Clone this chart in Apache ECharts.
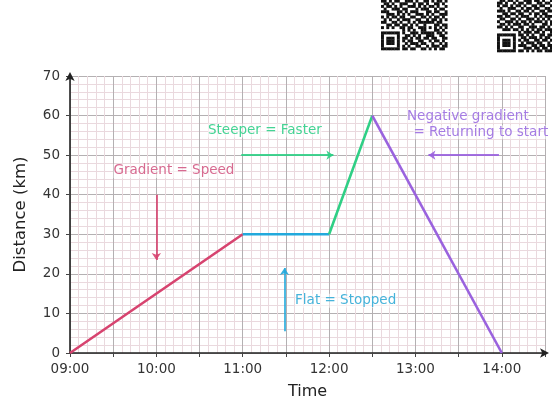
<!DOCTYPE html>
<html>
<head>
<meta charset="utf-8">
<script src="https://cdn.jsdelivr.net/npm/echarts@6/dist/echarts.min.js"></script>
<style>
  html, body { margin: 0; padding: 0; background: #ffffff; }
  #chart { width: 552px; height: 405px; }
</style>
</head>
<body>
<div id="chart"></div>
<script>
// Journey: minutes after 09:00 against distance from home (km)
const START_HOUR = 9;
const xMaxMinutes = 330;          // axis runs to 14:30
const yMaxKm = 70;

const walkOut   = [[0, 0], [120, 30]];     // 09:00 -> 11:00
const stopped   = [[120, 30], [180, 30]];  // 11:00 -> 12:00
const faster    = [[180, 30], [210, 60]];  // 12:00 -> 12:30
const returning = [[210, 60], [300, 0]];   // 12:30 -> 14:00

const segmentColors = ['#d7436f', '#22a9dc', '#2fcf85', '#9a62de'];

// Notes written on the graph: [text, minutes, km, colour]
const notes = [
  ['Gradient = Speed', 72.2, 46, '#d76a90'],
  ['Steeper = Faster', 135.4, 56.2, '#45d394'],
  ['Flat = Stopped', 191.5, 13.2, '#46b3da'],
  ['Negative gradient', 276.4, 59.8, '#a57ce3'],
  ['= Returning to start', 285.4, 55.8, '#a57ce3']
];

// Arrows pointing at each segment: [from, to, colour]
const pointers = [
  [[60, 40], [60, 23.5], '#d7436f'],
  [[119, 50], [183, 50], '#2fcf85'],
  [[298, 50], [249, 50], '#9a62de'],
  [[149, 5.5], [149, 21.5], '#22a9dc']
];

// Module rows for the two QR codes in the top corner
const qrLeft = [
  '1101011001110100110101101',
  '0110100111001011010011010',
  '1011010100111010101101001',
  '0100111011000101110010110',
  '1110001101011100011011001',
  '0011101010100111010100111',
  '1010110110011001101011010',
  '0101001011100110010110101',
  '1100110100101011111101100',
  '0011011011010100100011011',
  '1010100110110011101010101',
  '0000000010101001100011010',
  '1111111010011101111101101',
  '1000001001101010011100110',
  '1011101011010110110110011',
  '1011101010110011001011010',
  '1011101001011101100100101',
  '1000001010100110010111011',
  '1111111011011001101010110'
];
const qrRight = [
  '011011010011101101001',
  '110100101101100110110',
  '101101011010011011001',
  '010011100101101100110',
  '111010011011010011011',
  '001101101100101101100',
  '110110010111001010111',
  '011001101001110101010',
  '100111010110101110101',
  '011010111011010001101',
  '110101001100111011010',
  '001110110101010110111',
  '000000001011101101001',
  '111111101101010011011',
  '100000100110111010110',
  '101110101011001101101',
  '101110100101110110010',
  '101110101110011011011',
  '100000100011101101101',
  '111111101101010110111'
];

function pad(n) { return (n < 10 ? '0' : '') + n; }

function qrRects(rows, left, bottom, cell) {
  const out = [];
  const top = bottom - rows.length * cell;
  rows.forEach(function (row, r) {
    for (let c = 0; c < row.length; c++) {
      if (row[c] === '1') {
        out.push({
          type: 'rect',
          shape: { x: left + c * cell, y: top + r * cell, width: cell + 0.3, height: cell + 0.3 },
          style: { fill: '#111111' },
          silent: true
        });
      }
    }
  });
  return out;
}

const chart = echarts.init(document.getElementById('chart'), null, { renderer: 'canvas' });

function lineSeries(data, color) {
  return {
    type: 'line',
    data: data,
    symbol: 'none',
    lineStyle: { color: color, width: 2.6 },
    z: 5,
    animation: false
  };
}

const series = [
  lineSeries(walkOut, segmentColors[0]),
  lineSeries(stopped, segmentColors[1]),
  lineSeries(faster, segmentColors[2]),
  lineSeries(returning, segmentColors[3]),
  {
    type: 'line',
    data: [],
    markLine: {
      silent: true,
      symbol: ['none', 'arrow'],
      symbolSize: [7, 7],
      label: { show: false },
      animation: false,
      data: pointers.map(function (p) {
        return [
          { coord: p[0], lineStyle: { color: p[2], width: 1.8, type: 'solid', opacity: 0.9 } },
          { coord: p[1] }
        ];
      })
    }
  }
];

chart.setOption({
  animation: false,
  backgroundColor: '#ffffff',
  grid: { left: 70, right: 7, top: 76, bottom: 49 },
  xAxis: {
    type: 'value',
    min: 0,
    max: xMaxMinutes,
    interval: 30,
    name: 'Time',
    nameLocation: 'middle',
    nameGap: 31,
    nameTextStyle: { fontFamily: 'DejaVu Sans', fontSize: 16, color: '#222' },
    axisLine: { show: true, symbol: ['none', 'arrow'], symbolSize: [7, 9], symbolOffset: [0, 4],
                lineStyle: { color: '#222', width: 1.6 } },
    axisTick: { show: true, length: 4, lineStyle: { color: '#444' } },
    axisLabel: {
      fontFamily: 'DejaVu Sans', fontSize: 13.5, color: '#333', margin: 9,
      formatter: function (v) {
        if (v % 60 !== 0 || v >= xMaxMinutes) return '';
        return pad(START_HOUR + v / 60) + ':00';
      }
    },
    splitLine: { show: true, lineStyle: { color: '#b4b0b2', width: 1 } },
    minorTick: { show: false, splitNumber: 5 },
    minorSplitLine: { show: true, lineStyle: { color: '#ead9de', width: 1 } }
  },
  yAxis: {
    type: 'value',
    min: 0,
    max: yMaxKm,
    interval: 10,
    name: 'Distance (km)',
    nameLocation: 'middle',
    nameGap: 41,
    nameTextStyle: { fontFamily: 'DejaVu Sans', fontSize: 16.5, color: '#222' },
    axisLine: { show: true, symbol: ['none', 'arrow'], symbolSize: [7, 9], symbolOffset: [0, 4],
                lineStyle: { color: '#222', width: 1.6 } },
    axisTick: { show: true, length: 4, lineStyle: { color: '#444' } },
    axisLabel: { fontFamily: 'DejaVu Sans', fontSize: 13.5, color: '#333', margin: 10 },
    splitLine: { show: true, lineStyle: { color: '#b4b0b2', width: 1 } },
    minorTick: { show: false, splitNumber: 5 },
    minorSplitLine: { show: true, lineStyle: { color: '#ead9de', width: 1 } }
  },
  series: series
});

// Notes and QR codes placed once the axes exist
const noteGraphics = notes.map(function (n) {
  const p = chart.convertToPixel({ gridIndex: 0 }, [n[1], n[2]]);
  return {
    type: 'text',
    x: p[0], y: p[1],
    z: 10,
    silent: true,
    style: {
      text: n[0],
      fill: n[3],
      font: '13.5px "DejaVu Sans"',
      align: 'center',
      verticalAlign: 'middle',
      backgroundColor: 'rgba(255,255,255,0.55)'
    }
  };
});

chart.setOption({
  graphic: [
    { type: 'group', children: qrRects(qrLeft, 381, 50, 2.65) },
    { type: 'group', children: qrRects(qrRight, 497, 52, 2.65) }
  ].concat(noteGraphics)
});
</script>
</body>
</html>
